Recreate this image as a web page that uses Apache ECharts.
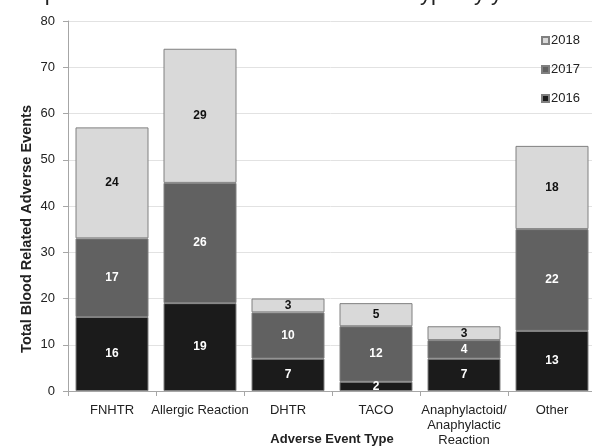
<!DOCTYPE html>
<html>
<head>
<meta charset="utf-8">
<script src="https://cdn.jsdelivr.net/npm/echarts@6/dist/echarts.min.js"></script>
<style>
  html, body { margin: 0; padding: 0; background: #fff; }
  #chart { width: 592px; height: 447px; }
</style>
</head>
<body>
<div id="chart"></div>
<script>
// data
var categories = ['FNHTR', 'Allergic Reaction', 'DHTR', 'TACO', 'Anaphylactoid/\nAnaphylactic\nReaction', 'Other'];
var y2016 = [16, 19, 7, 2, 7, 13];
var y2017 = [17, 26, 10, 12, 4, 22];
var y2018 = [24, 29, 3, 5, 3, 18];
var yTicks = [0, 10, 20, 30, 40, 50, 60, 70, 80];

var font = 'Liberation Sans, Arial, sans-serif';

function stackSeries(name, data, color, labelColor) {
	return {
		name: name,
		type: 'bar',
		stack: 'total',
		data: data,
		barWidth: 73,
		itemStyle: {color: color, borderColor: '#808080', borderWidth: 1},
		label: {
			show: true,
			position: 'inside',
			color: labelColor,
			fontFamily: font,
			fontWeight: 'bold',
			fontSize: 12
		}
	};
}

var myChart = echarts.init(document.getElementById('chart'), null, {renderer: 'canvas'});

var option = {
	animation: false,
	// title is cut off at the top edge in the source
	title: {
		text: 'Graph 5 demonstrates the adverse event type by year',
		left: 8,
		top: -17,
		padding: 0,
		textStyle: {fontFamily: font, fontSize: 22, fontWeight: 'normal', color: '#222'}
	},
	grid: {left: 68, right: -4, top: 21, bottom: 56, containLabel: false, outerBoundsMode: 'none'},
	legend: {
		orient: 'vertical',
		left: 536,
		top: 29,
		itemWidth: 7,
		itemHeight: 7,
		itemGap: 16,
		icon: 'rect',
		data: ['2018', '2017', '2016'],
		textStyle: {fontFamily: font, fontSize: 13, color: '#222', padding: [0, 0, 0, -3]}
	},
	xAxis: {
		type: 'category',
		data: categories,
		name: 'Adverse Event Type',
		nameLocation: 'middle',
		nameGap: 42,
		nameMoveOverlap: false,
		nameTextStyle: {fontFamily: font, fontSize: 13, fontWeight: 'bold', color: '#222'},
		axisLine: {lineStyle: {color: '#a6a6a6'}},
		axisTick: {show: true, length: 5, alignWithLabel: false, lineStyle: {color: '#a6a6a6'}},
		axisLabel: {fontFamily: font, fontSize: 13, color: '#222', margin: 12, lineHeight: 15, interval: 0}
	},
	yAxis: {
		type: 'value',
		min: yTicks[0],
		max: yTicks[yTicks.length - 1],
		interval: 10,
		axisLine: {show: true, lineStyle: {color: '#a6a6a6'}},
		axisTick: {show: true, length: 5, lineStyle: {color: '#a6a6a6'}},
		axisLabel: {fontFamily: font, fontSize: 13, color: '#222', margin: 13},
		splitLine: {lineStyle: {color: '#e2e2e2'}}
	},
	graphic: [{
		type: 'text',
		left: 19,
		top: 105,
		rotation: Math.PI / 2,
		style: {
			text: 'Total Blood Related Adverse Events',
			fontFamily: font,
			fontSize: 14.5,
			fontWeight: 'bold',
			fill: '#222'
		}
	}],
	series: [
		stackSeries('2016', y2016, '#1b1b1b', '#fff'),
		stackSeries('2017', y2017, '#616161', '#fff'),
		stackSeries('2018', y2018, '#d9d9d9', '#111')
	]
};

myChart.setOption(option, true);
</script>
</body>
</html>
